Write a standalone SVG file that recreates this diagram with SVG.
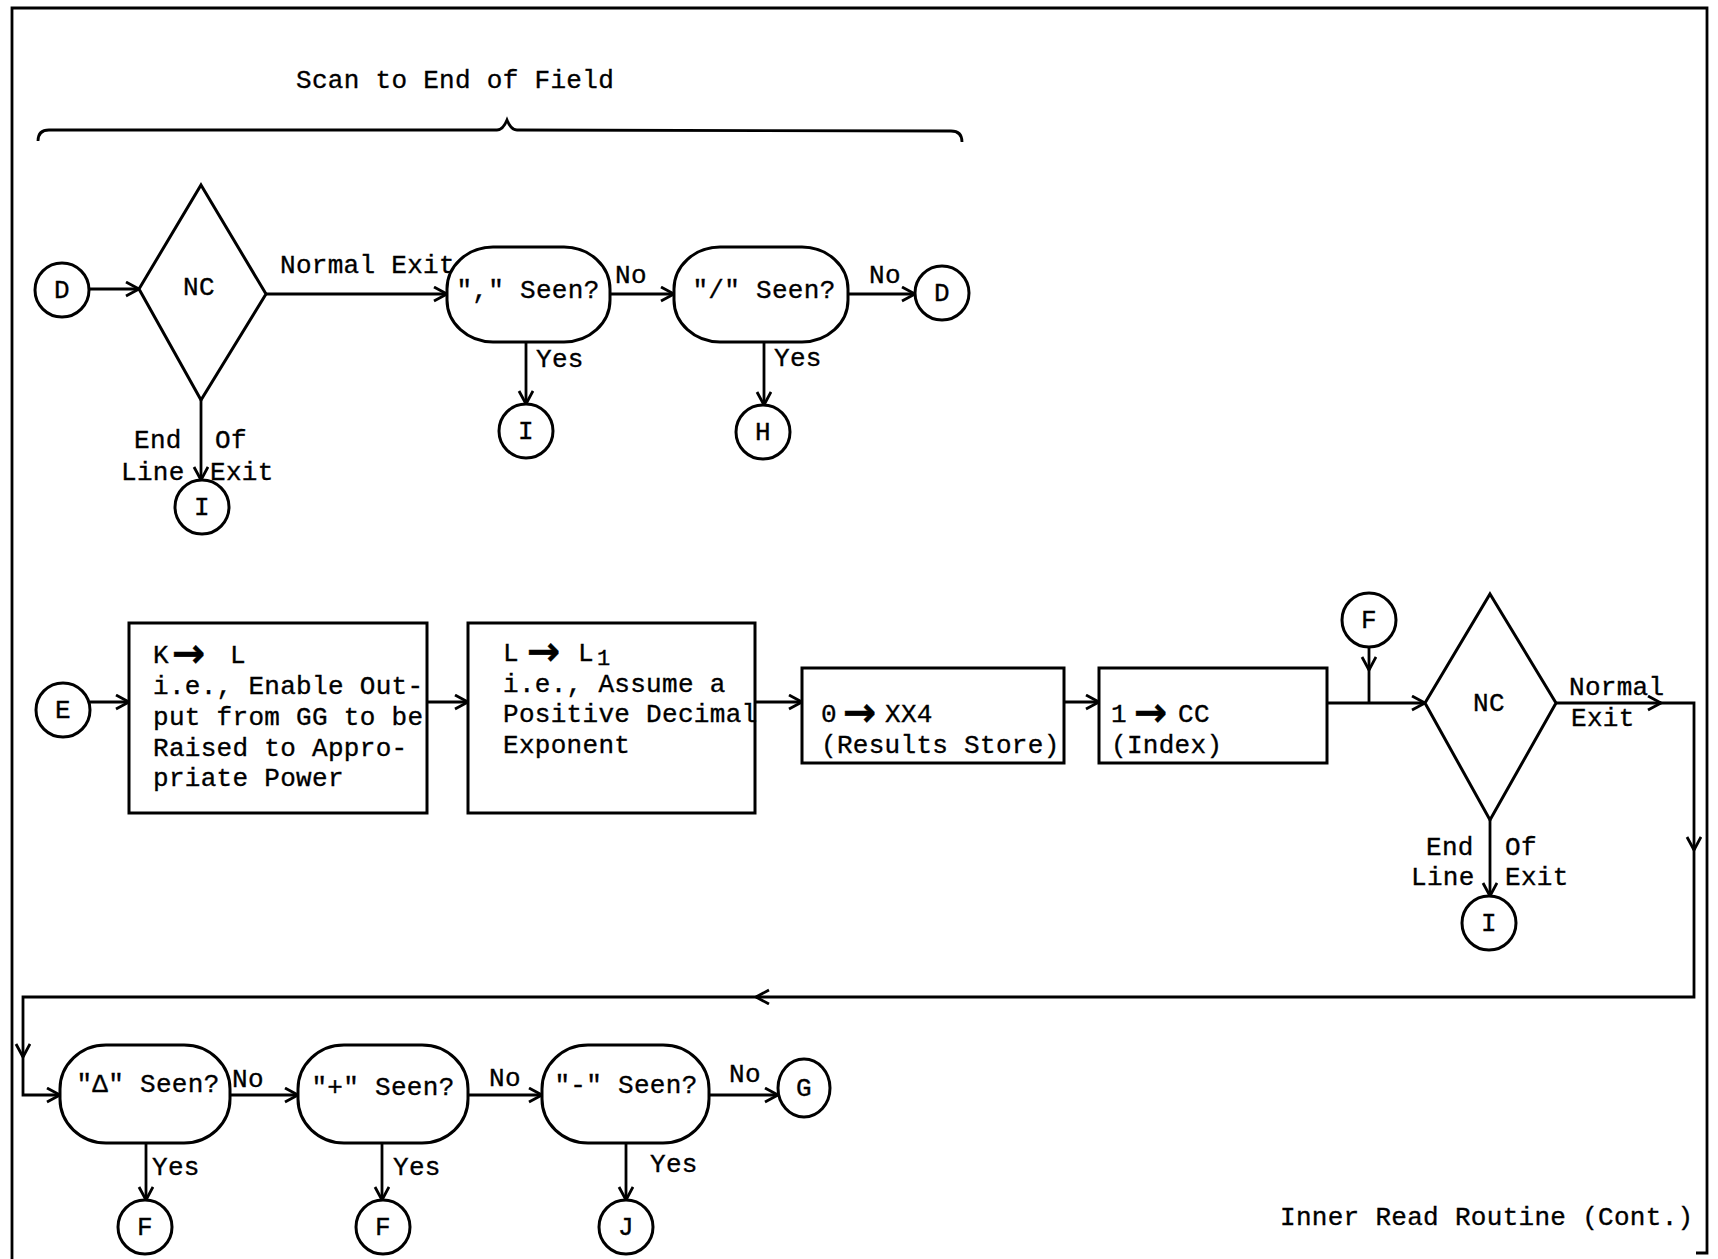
<svg xmlns="http://www.w3.org/2000/svg" width="1718" height="1259" viewBox="0 0 1718 1259">
<style>
.sh{fill:#fff;stroke:#000;stroke-width:3}
.ln{fill:none;stroke:#000;stroke-width:2.8}
.bd{fill:none;stroke:#000;stroke-width:2.8}
text{font-family:"Liberation Mono","DejaVu Sans Mono",monospace;font-size:26px;fill:#000;stroke:#000;stroke-width:0.35;letter-spacing:0.3px}
.c{text-anchor:middle}
.arr{font-family:"DejaVu Sans",sans-serif;font-weight:bold;font-size:40px;letter-spacing:0}
.sub{font-size:22px}
</style>
<defs>
<marker id="ah" markerUnits="userSpaceOnUse" markerWidth="18" markerHeight="18" refX="14" refY="8" orient="auto">
<path d="M1,1 L14,8 L1,15" fill="none" stroke="#000" stroke-width="2.8"/>
</marker>
</defs>
<rect width="1718" height="1259" fill="#fff"/>
<path class="bd" d="M12,1259 L12,8 L1707,8 L1707,1253 L1696,1253"/>
<g id="title">
<text x="296" y="88">Scan to End of Field</text>
<path class="ln" d="M38,141 Q38,130 49,130 L497,130 Q503,130 507,120 Q511,130 517,130 L951,131 Q962,131 962,142"/>
</g>
<g id="connectors">
<line class="ln" x1="89" y1="289" x2="139" y2="289" marker-end="url(#ah)"/>
<line class="ln" x1="266" y1="294" x2="447" y2="294" marker-end="url(#ah)"/>
<line class="ln" x1="610" y1="294" x2="674" y2="294" marker-end="url(#ah)"/>
<line class="ln" x1="848" y1="294" x2="915" y2="294" marker-end="url(#ah)"/>
<line class="ln" x1="526" y1="342" x2="526" y2="404" marker-end="url(#ah)"/>
<line class="ln" x1="764" y1="342" x2="764" y2="405" marker-end="url(#ah)"/>
<line class="ln" x1="201" y1="400" x2="201" y2="480" marker-end="url(#ah)"/>
<line class="ln" x1="90" y1="702" x2="129" y2="702" marker-end="url(#ah)"/>
<line class="ln" x1="427" y1="702" x2="468" y2="702" marker-end="url(#ah)"/>
<line class="ln" x1="755" y1="702" x2="802" y2="702" marker-end="url(#ah)"/>
<line class="ln" x1="1064" y1="702" x2="1099" y2="702" marker-end="url(#ah)"/>
<line class="ln" x1="1327" y1="703" x2="1425" y2="703" marker-end="url(#ah)"/>
<line class="ln" x1="1369" y1="647" x2="1369" y2="670" marker-end="url(#ah)"/>
<line class="ln" x1="1369" y1="668" x2="1369" y2="703"/>
<line class="ln" x1="1556" y1="703" x2="1661" y2="703" marker-end="url(#ah)"/>
<polyline class="ln" points="1659,703 1694,703 1694,850" marker-end="url(#ah)"/>
<polyline class="ln" points="1694,848 1694,997 756,997" marker-end="url(#ah)"/>
<polyline class="ln" points="758,997 23,997 23,1057" marker-end="url(#ah)"/>
<polyline class="ln" points="23,1055 23,1095 60,1095" marker-end="url(#ah)"/>
<line class="ln" x1="1490" y1="820" x2="1490" y2="896" marker-end="url(#ah)"/>
<line class="ln" x1="230" y1="1095" x2="298" y2="1095" marker-end="url(#ah)"/>
<line class="ln" x1="468" y1="1095" x2="542" y2="1095" marker-end="url(#ah)"/>
<line class="ln" x1="709" y1="1095" x2="778" y2="1095" marker-end="url(#ah)"/>
<line class="ln" x1="146" y1="1143" x2="146" y2="1200" marker-end="url(#ah)"/>
<line class="ln" x1="382" y1="1143" x2="382" y2="1200" marker-end="url(#ah)"/>
<line class="ln" x1="626" y1="1143" x2="626" y2="1200" marker-end="url(#ah)"/>
</g>
<g id="labels">
<text x="280" y="273">Normal Exit</text>
<text x="615" y="283">No</text>
<text x="869" y="283">No</text>
<text x="536" y="367">Yes</text>
<text x="774" y="366">Yes</text>
<text x="134" y="448">End</text>
<text x="215" y="448">Of</text>
<text x="121" y="480">Line</text>
<text x="210" y="480">Exit</text>
<text x="1569" y="695">Normal</text>
<text x="1571" y="726">Exit</text>
<text x="1426" y="855">End</text>
<text x="1505" y="855">Of</text>
<text x="1411" y="885">Line</text>
<text x="1505" y="885">Exit</text>
<text x="232" y="1087">No</text>
<text x="489" y="1086">No</text>
<text x="729" y="1082">No</text>
<text x="152" y="1175">Yes</text>
<text x="393" y="1175">Yes</text>
<text x="650" y="1172">Yes</text>
<text x="1280" y="1225">Inner Read Routine (Cont.)</text>
</g>
<g id="D1"><circle class="sh" cx="62" cy="290" r="27"/><text class="c" x="62" y="298">D</text></g>
<g id="NC1"><polygon class="sh" points="201,185 266,294 201,400 139,289"/><text class="c" x="199" y="295">NC</text></g>
<g id="I1"><circle class="sh" cx="202" cy="507" r="27"/><text class="c" x="202" y="515">I</text></g>
<g id="comma"><rect class="sh" x="447" y="247" width="163" height="95" rx="46" ry="42"/><text class="c" x="528" y="298">"," Seen?</text></g>
<g id="I2"><circle class="sh" cx="526" cy="431" r="27"/><text class="c" x="526" y="439">I</text></g>
<g id="slash"><rect class="sh" x="674" y="247" width="174" height="95" rx="46" ry="42"/><text class="c" x="764" y="298">"/" Seen?</text></g>
<g id="H"><circle class="sh" cx="763" cy="432" r="27"/><text class="c" x="763" y="440">H</text></g>
<g id="D2"><circle class="sh" cx="942" cy="293" r="27"/><text class="c" x="942" y="301">D</text></g>
<g id="E"><circle class="sh" cx="63" cy="710" r="27"/><text class="c" x="63" y="718">E</text></g>
<g id="box1"><rect class="sh" x="129" y="623" width="298" height="190"/>
<text x="153" y="663">K<tspan class="arr" x="172" dy="4">→</tspan><tspan x="230" dy="-4">L</tspan></text>
<text x="153" y="694">i.e., Enable Out-</text>
<text x="153" y="725">put from GG to be</text>
<text x="153" y="756">Raised to Appro-</text>
<text x="153" y="786">priate Power</text>
</g>
<g id="box2"><rect class="sh" x="468" y="623" width="287" height="190"/>
<text x="503" y="661">L<tspan class="arr" x="527" dy="4">→</tspan><tspan x="578" dy="-4">L</tspan><tspan class="sub" x="597" dy="4">1</tspan></text>
<text x="503" y="692">i.e., Assume a</text>
<text x="503" y="722">Positive Decimal</text>
<text x="503" y="753">Exponent</text>
</g>
<g id="box3"><rect class="sh" x="802" y="668" width="262" height="95"/>
<text x="821" y="722">0<tspan class="arr" x="843" dy="4">→</tspan><tspan x="885" dy="-4">XX4</tspan></text>
<text x="821" y="753">(Results Store)</text>
</g>
<g id="box4"><rect class="sh" x="1099" y="668" width="228" height="95"/>
<text x="1111" y="722">1<tspan class="arr" x="1134" dy="4">→</tspan><tspan x="1178" dy="-4">CC</tspan></text>
<text x="1111" y="753">(Index)</text>
</g>
<g id="F1"><circle class="sh" cx="1369" cy="620" r="27"/><text class="c" x="1369" y="628">F</text></g>
<g id="NC2"><polygon class="sh" points="1490,594 1556,703 1490,820 1425,703"/><text class="c" x="1489" y="711">NC</text></g>
<g id="I3"><circle class="sh" cx="1489" cy="923" r="27"/><text class="c" x="1489" y="931">I</text></g>
<g id="delta"><rect class="sh" x="60" y="1045" width="170" height="98" rx="46" ry="44"/><text class="c" x="148" y="1092">"Δ" Seen?</text></g>
<g id="plus"><rect class="sh" x="298" y="1045" width="170" height="98" rx="46" ry="44"/><text class="c" x="383" y="1095">"+" Seen?</text></g>
<g id="minus"><rect class="sh" x="542" y="1045" width="167" height="98" rx="46" ry="44"/><text class="c" x="626" y="1093">"-" Seen?</text></g>
<g id="G"><ellipse class="sh" cx="804" cy="1088" rx="26" ry="29"/><text class="c" x="804" y="1096">G</text></g>
<g id="F2"><circle class="sh" cx="145" cy="1227" r="27"/><text class="c" x="145" y="1235">F</text></g>
<g id="F3"><circle class="sh" cx="383" cy="1227" r="27"/><text class="c" x="383" y="1235">F</text></g>
<g id="J"><circle class="sh" cx="626" cy="1227" r="27"/><text class="c" x="626" y="1235">J</text></g>
</svg>
